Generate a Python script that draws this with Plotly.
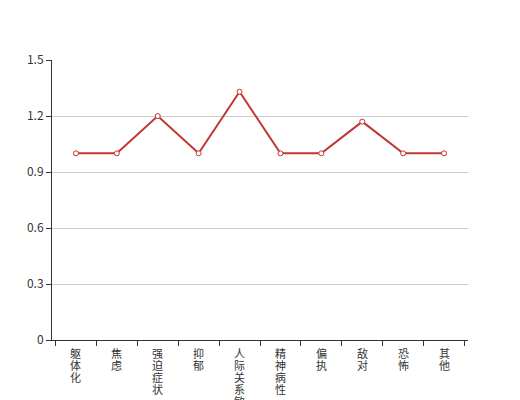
import plotly.graph_objects as go

categories = ["躯体化", "焦虑", "强迫症状", "抑郁", "人际关系敏感", "精神病性", "偏执", "敌对", "恐怖", "其他"]
values = [1, 1, 1.2, 1, 1.33, 1, 1, 1.17, 1, 1]
y_ticks = [0, 0.3, 0.6, 0.9, 1.2, 1.5]

fig = go.Figure()
fig.add_trace(go.Scatter(
    x=categories, y=values, mode="lines+markers",
    line=dict(color="#c23531", width=2),
    marker=dict(symbol="circle", size=5, color="#ffffff",
                line=dict(color="#c23531", width=1)),
    hoverinfo="skip",
))

# vertical category labels: one character per row, ~12px pitch
for cat in categories:
    for k, ch in enumerate(cat):
        fig.add_annotation(
            x=cat, xref="x", y=0, yref="paper", yanchor="top",
            yshift=-4 - 12 * k, text=ch, showarrow=False,
            font=dict(family="Noto Sans CJK SC, sans-serif", size=11, color="#333333"),
            borderpad=0,
        )

fig.update_layout(
    width=512, height=392,
    margin=dict(l=44, r=52, t=52, b=60),
    paper_bgcolor="#ffffff", plot_bgcolor="#ffffff",
    showlegend=False,
    font=dict(family="Noto Sans CJK SC, sans-serif", size=12, color="#333333"),
    xaxis=dict(
        type="category", automargin=False, categoryorder="array", categoryarray=categories,
        showticklabels=False,
        tickson="boundaries", ticks="outside", ticklen=5, tickcolor="#333333",
        showline=True, linecolor="#333333", linewidth=1,
        showgrid=False,
        fixedrange=True,
    ),
    yaxis=dict(
        range=[0, 1.5], automargin=False, tickmode="array", tickvals=y_ticks,
        ticktext=[str(t) for t in y_ticks],
        ticks="outside", ticklen=5, tickcolor="#333333",
        showline=True, linecolor="#333333", linewidth=1,
        showgrid=True, gridcolor="#cccccc", gridwidth=1,
        zeroline=False,
        tickfont=dict(size=12, color="#333333"),
        fixedrange=True,
    ),
)

fig.write_html("out.html")
